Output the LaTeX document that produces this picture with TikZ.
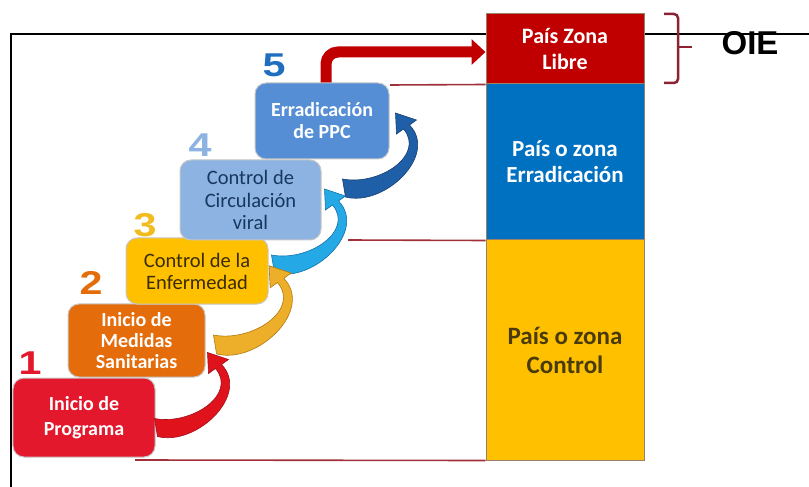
\documentclass[tikz,border=0pt]{standalone}
\usepackage{fontspec}
\setmainfont{Carlito}
\newfontfamily\numfont{Liberation Sans}
\usetikzlibrary{arrows.meta}
\definecolor{cRed}{HTML}{E3182D}
\definecolor{cOrange}{HTML}{E46C0A}
\definecolor{cYellow}{HTML}{FFC000}
\definecolor{cLBlue}{HTML}{8DB3E2}
\definecolor{cBlue}{HTML}{558ED5}
\definecolor{zRed}{HTML}{C00000}
\definecolor{zBlue}{HTML}{0070C0}
\definecolor{zYellow}{HTML}{FFC000}
\definecolor{txtDark}{HTML}{3A2C05}
\definecolor{txtBrown}{HTML}{4A3B0C}
\definecolor{txtNavy}{HTML}{17375E}
\definecolor{lineRed}{HTML}{A0303A}
\definecolor{aRed}{HTML}{E0121C}
\definecolor{aRedD}{HTML}{A0101A}
\definecolor{aYel}{HTML}{EDAE2A}
\definecolor{aYelD}{HTML}{B07A10}
\definecolor{aCyan}{HTML}{25A8E6}
\definecolor{aCyanD}{HTML}{1670A8}
\definecolor{aDBlue}{HTML}{1F5FA8}
\definecolor{aDBlueD}{HTML}{163F70}
\definecolor{braceRed}{HTML}{8C2232}
\definecolor{nBlue}{HTML}{1F6FC0}
\definecolor{nYellow}{HTML}{F2BC1E}
\tikzset{
  stepbox/.style={rounded corners=11bp, draw=gray!45, line width=1bp, align=center, inner sep=0pt},
  zonebox/.style={draw=gray!60!brown, line width=1bp, align=center, minimum width=158bp, inner sep=0pt},
  numlab/.style={font=\numfont\bfseries\fontsize{33bp}{33bp}\selectfont, inner sep=0pt},
  thinred/.style={draw=lineRed, line width=1.6bp},
  curvarr/.pic={
    \filldraw[pic actions, line width=0.6bp] (-1,-9) .. controls (36,-2) and (82,-33) .. (60,-59)
      -- (53,-54) -- (52,-75) -- (73,-68) -- (66,-63)
      .. controls (95,-33) and (41,19) .. (2,9) -- cycle;
  },
  bigarrow/.style={draw=zRed, line width=11bp, rounded corners=12bp, -{Triangle[length=14bp,width=25bp]}},
}
\newcommand{\wdig}[1]{\scalebox{1.25}[1]{#1}}
\begin{document}
\begin{tikzpicture}[x=1bp,y=-1bp]
\useasboundingbox (0,0) rectangle (809,487);
% frame
\draw[line width=1.5bp] (809,34) -- (11,34) -- (11,487);

% zone column
\node[zonebox, fill=zRed, text=white, minimum height=70bp,
      font=\bfseries\fontsize{22bp}{26bp}\selectfont] (zl) at (565,49) {País Zona\\Libre};
\node[zonebox, fill=zBlue, text=white, minimum height=156bp,
      font=\bfseries\fontsize{23bp}{26bp}\selectfont] (ze) at (565,162) {País o zona\\Erradicación};
\node[zonebox, fill=zYellow, text=txtBrown, minimum height=220bp,
      font=\bfseries\fontsize{25bp}{29bp}\selectfont] (zc) at (565,350) {País o zona\\Control};

% brace and OIE
\draw[braceRed, line width=2.5bp, rounded corners=4bp] (664,14) -- (678,14) -- (678,83) -- (664,83);
\draw[braceRed, line width=2.5bp] (678,47) -- (692,47);
\node[font=\numfont\bfseries\fontsize{33bp}{33bp}\selectfont, inner sep=0pt] (oie) at (750,43) {OIE};

% thin lines to the column
\coordinate (l2s) at (348,240);
\coordinate (l3s) at (135,460);
\draw[thinred] (390,85) -- (zl.south west);
\draw[thinred] (l2s) -- (ze.south west);
\draw[thinred] (l3s) -- (zc.south west);

% big red arrow to the free zone
\coordinate (zlin) at ([yshift=-3bp]zl.west);
\draw[bigarrow] (326,84) |- (zlin);

% step boxes
\node[stepbox, fill=cRed, text=white, minimum width=142bp, minimum height=79bp,
      font=\bfseries\fontsize{20bp}{25bp}\selectfont] (b1) at (84,417.5) {Inicio de\\Programa};
\node[stepbox, fill=cOrange, text=white, minimum width=137bp, minimum height=73bp,
      font=\bfseries\fontsize{20bp}{21bp}\selectfont] (b2) at (136.5,340.5) {Inicio de\\Medidas\\Sanitarias};
\node[stepbox, fill=cYellow, text=txtDark, minimum width=142bp, minimum height=66bp,
      font=\fontsize{20.5bp}{22bp}\selectfont] (b3) at (197,271) {Control de la\\Enfermedad};
\node[stepbox, fill=cLBlue, text=txtNavy, minimum width=141bp, minimum height=80bp,
      font=\fontsize{20.5bp}{22.5bp}\selectfont] (b4) at (250.5,200) {Control de\\Circulación\\viral};
\node[stepbox, fill=cBlue, text=white, minimum width=134bp, minimum height=76bp,
      font=\bfseries\fontsize{20bp}{22bp}\selectfont] (b5) at (322,121) {Erradicación\\de PPC};

% step numbers
\node[numlab, text=cRed] (n1) at (30,363) {\wdig{1}};
\node[numlab, text=cOrange] (n2) at (91,283) {\wdig{2}};
\node[numlab, text=nYellow] (n3) at (145,225) {\wdig{3}};
\node[numlab, text=cLBlue] (n4) at (200,145) {\wdig{4}};
\node[numlab, text=nBlue] (n5) at (274,65) {\wdig{5}};

% curved arrows between steps
\pic[fill=aDBlue, draw=aDBlueD] at ([xshift=22bp,yshift=12bp]b4.east) {curvarr};
\pic[fill=aCyan, draw=aCyanD] at ([xshift=4bp,yshift=7bp]b3.east) {curvarr};
\pic[fill=aYel, draw=aYelD, scale=1.05] at ([xshift=9bp,yshift=-4bp]b2.east) {curvarr};
\pic[fill=aRed, draw=aRedD] at ([yshift=-10bp]b1.east) {curvarr};
\end{tikzpicture}
\end{document}
